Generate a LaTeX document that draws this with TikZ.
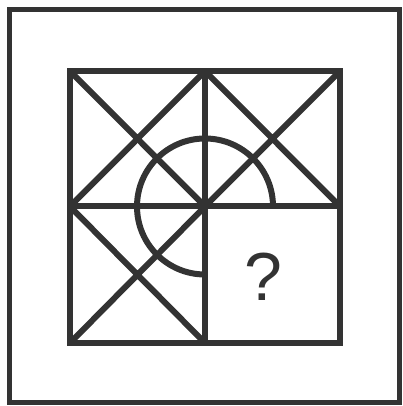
\documentclass[tikz,border=0pt]{standalone}
\usepackage{fontspec}
\setmainfont{Liberation Sans}
\usetikzlibrary{calc}
\definecolor{ink}{HTML}{333333}
\begin{document}
\begin{tikzpicture}[x=1pt,y=1pt,
  frame/.style={draw=ink,line width=5pt},
  gridline/.style={draw=ink,line width=6pt,line cap=rect},
  diag/.style={draw=ink,line width=6pt},
  arcline/.style={draw=ink,line width=6pt}]
\useasboundingbox (0,0) rectangle (402,406);
\draw[frame] (9,3.5) rectangle (399.5,396.5);
% grid coordinates
\coordinate (tl) at (70,335);
\coordinate (tm) at (205,335);
\coordinate (tr) at (340,335);
\coordinate (ml) at (70,199.5);
\coordinate (c) at (205,199.5);
\coordinate (mr) at (340,199.5);
\coordinate (bl) at (70,63);
\coordinate (bm) at (205,63);
\coordinate (br) at (340,63);
% diagonals
\draw[diag] (tl) -- (c) (tm) -- (ml);
\draw[diag] (tm) -- (mr) (tr) -- (c);
\draw[diag] (ml) -- (bm) (c) -- (bl);
% arc
\draw[arcline] ($(c)+(68,0)$) arc[start angle=0,end angle=270,radius=68];
% grid
\draw[gridline] (tl) rectangle (br);
\draw[gridline] (tm) -- (bm);
\draw[gridline] (ml) -- (mr);
\node[text=ink,font=\fontsize{68}{68}\selectfont,inner sep=0pt] (q) at (263,129) {?};
\end{tikzpicture}
\end{document}
